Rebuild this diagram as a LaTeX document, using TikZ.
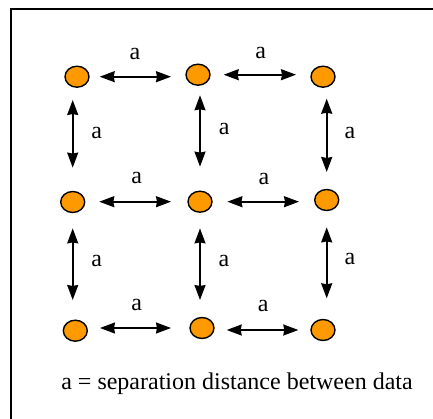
\documentclass[tikz,border=0pt]{standalone}
\usepackage{fontspec}
\setmainfont{Liberation Serif}
\newfontfamily\timesfont{Liberation Serif}
\usetikzlibrary{shapes.geometric,arrows.meta}
\definecolor{dotorange}{RGB}{255,153,0}
\begin{document}
\begin{tikzpicture}[x=1pt,y=-1pt,
  dot/.style={ellipse,draw=black,line width=1.4pt,fill=dotorange,minimum width=24pt,minimum height=21pt,inner sep=0pt},
  link/.style={line width=1.7pt,{Stealth[length=15pt,width=11pt,inset=1pt]}-{Stealth[length=15pt,width=11pt,inset=1pt]}},
  lbl/.style={inner sep=0pt,font=\timesfont\fontsize{24}{28}\selectfont},
  frame/.style={line width=2pt}]
\useasboundingbox (0,0) rectangle (433,419);
\draw[frame] (11,419) -- (11,9) -- (433,9);
% dots
\node[dot] (n11) at (77,76.7) {};
\node[dot] (n12) at (198,74.7) {};
\node[dot] (n13) at (323,76.7) {};
\node[dot] (n21) at (72.7,202) {};
\node[dot] (n22) at (200,201.7) {};
\node[dot] (n23) at (326.7,200) {};
\node[dot] (n31) at (75.3,330.7) {};
\node[dot] (n32) at (202,328) {};
\node[dot] (n33) at (323,330) {};
% horizontal connectors
\draw[link,shorten <=10pt,shorten >=27pt] (n11) -- (n11 -| n12);
\draw[link,shorten <=13pt,shorten >=27pt] (n12) -- (n12 -| n13);
\draw[link,shorten <=26.6pt,shorten >=16.3pt] (n22 -| n21) -- (n22);
\draw[link,shorten <=14.7pt,shorten >=27.7pt] (n22) -- (n22 -| n23);
\draw[link,shorten <=24.7pt,shorten >=18.3pt] (n32 -| n31) -- (n32);
\draw[link,shorten <=24.7pt,shorten >=12pt] (n33 -| n32) -- (n33);
% vertical connectors
\draw[link,shorten <=23.3pt,shorten >=23.2pt] (n21 |- n11) -- (n21);
\draw[link,shorten <=20.6pt,shorten >=23.9pt] (n22 |- n12) -- (n22);
\draw[link,shorten <=22pt,shorten >=16.8pt] (n23 |- n13) -- (n23);
\draw[link,shorten <=15.2pt,shorten >=30.7pt] (n21) -- (n21 |- n31);
\draw[link,shorten <=15.5pt,shorten >=28pt] (n22) -- (n22 |- n32);
\draw[link,shorten <=16.2pt,shorten >=31.7pt] (n23) -- (n23 |- n33);
% labels
\node[lbl] (h11) at (135,53.5) {a};
\node[lbl] (h12) at (260.7,53) {a};
\node[lbl] (h21) at (136.7,178) {a};
\node[lbl] (h22) at (264,179) {a};
\node[lbl] (h31) at (136.7,305) {a};
\node[lbl] (h32) at (263.3,306) {a};
\node[lbl] (v11) at (96.7,132.7) {a};
\node[lbl] (v12) at (224.3,129) {a};
\node[lbl] (v13) at (350,132.7) {a};
\node[lbl] (v21) at (96.7,260.7) {a};
\node[lbl] (v22) at (224,260.7) {a};
\node[lbl] (v23) at (350,259.3) {a};
% caption
\node[lbl,anchor=base] (cap) at (237,389.3) {a = separation distance between data};
\end{tikzpicture}
\end{document}
